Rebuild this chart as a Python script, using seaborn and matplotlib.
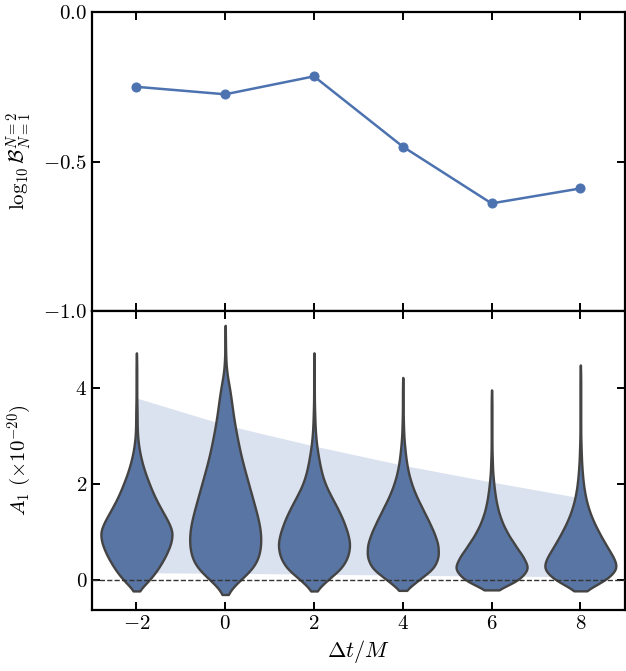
import numpy as np
import pandas as pd
import matplotlib
matplotlib.use("Agg")
import matplotlib.pyplot as plt
import seaborn as sns

# time shifts (in units of M)
dt = [-2, 0, 2, 4, 6, 8]

# top panel: log10 Bayes factor N=2 vs N=1
log_bf = [-0.25, -0.275, -0.215, -0.45, -0.64, -0.59]

# bottom panel: shaded band
band_upper = [3.79, 3.23, 2.79, 2.39, 2.04, 1.71]
band_lower = [0.15, 0.14, 0.12, 0.10, 0.08, 0.07]

a1_grid = [0.0, 0.25, 0.5, 0.75, 1.0, 1.25, 1.5, 1.75, 2.0, 2.25, 2.5,
           2.75, 3.0, 3.25, 3.5, 3.75, 4.0, 4.25, 4.5, 4.75, 5.0]
a1_m2 = [39, 64, 84, 99, 106, 89, 69, 51, 37, 24, 14, 7, 3, 2, 2, 1, 1, 1, 1, 0, 0]
a1_0 = [45, 90, 103, 108, 107, 100, 90, 80, 70, 60, 50, 42, 35, 28, 23, 18, 14, 5, 2, 1, 1]
a1_2 = [40, 86, 104, 110, 101, 88, 71, 51, 33, 22, 15, 9, 5, 3, 2, 1, 1, 1, 1, 0, 0]
a1_4 = [47, 96, 108, 106, 93, 76, 58, 40, 26, 16, 10, 6, 3, 2, 1, 1, 1, 0, 0, 0, 0]
a1_6 = [78, 104, 85, 62, 41, 26, 16, 10, 6, 3, 2, 1, 1, 1, 1, 1, 0, 0, 0, 0, 0]
a1_8 = [72, 104, 87, 67, 49, 33, 21, 13, 8, 5, 3, 2, 1, 1, 1, 1, 1, 1, 0, 0, 0]
a1_counts = [a1_m2, a1_0, a1_2, a1_4, a1_6, a1_8]

frames = []
for t, counts in zip(dt, a1_counts):
    frames.append(pd.DataFrame({"dt": t, "A1": np.repeat(a1_grid, counts)}))
df = pd.concat(frames, ignore_index=True)

sns.set_theme(style="ticks", palette="deep")
plt.rcParams.update({
    "font.family": "serif",
    "font.serif": ["cmr10"],
    "mathtext.fontset": "cm",
    "axes.formatter.use_mathtext": True,
    "axes.linewidth": 1.6,
    "axes.edgecolor": "black",
    "axes.labelcolor": "black",
    "text.color": "black",
    "xtick.color": "black",
    "ytick.color": "black",
    "xtick.direction": "in",
    "ytick.direction": "in",
    "xtick.top": True,
    "ytick.right": True,
    "xtick.major.size": 6,
    "ytick.major.size": 6,
    "xtick.major.width": 1.4,
    "ytick.major.width": 1.4,
    "xtick.labelsize": 15,
    "ytick.labelsize": 15,
})

blue = sns.color_palette("deep")[0]

fig = plt.figure(figsize=(6.26, 6.71), dpi=100)
ax1 = fig.add_axes([0.147, 0.5365, 0.851, 0.4455])
ax2 = fig.add_axes([0.147, 0.0909, 0.851, 0.4456], sharex=ax1)

sns.lineplot(x=dt, y=log_bf, ax=ax1, color=blue, lw=1.8, marker="o",
             markersize=6.5, markeredgecolor=blue)
ax1.set_ylim(-1.0, 0.0)
ax1.set_yticks([-1.0, -0.5, 0.0])
ax1.set_ylabel(r"$\log_{10}\mathcal{B}^{N=2}_{N=1}$", fontsize=15)
ax1.tick_params(labelbottom=False)

ax2.fill_between(dt, band_lower, band_upper, color=blue, alpha=0.2, lw=0, zorder=0)
sns.violinplot(data=df, x="dt", y="A1", native_scale=True, density_norm="width",
               inner=None, cut=1.4, bw_adjust=0.85, width=0.8, color=blue,
               linecolor="#444444", linewidth=1.7, ax=ax2)
ax2.axhline(0, ls="--", color="#333333", lw=1, zorder=5)
ax2.set_xlim(-3, 9)
ax2.set_ylim(-0.625, 5.6)
ax2.set_xticks(dt)
ax2.set_yticks([0, 2, 4])
ax2.set_xlabel(r"$\Delta t/M$", fontsize=16)
ax2.set_ylabel(r"$A_1\ (\times 10^{-20})$", fontsize=15)

ax1.yaxis.set_label_coords(-0.108, 0.5)
ax2.yaxis.set_label_coords(-0.108, 0.5)

fig.savefig("out.png", dpi=100)
